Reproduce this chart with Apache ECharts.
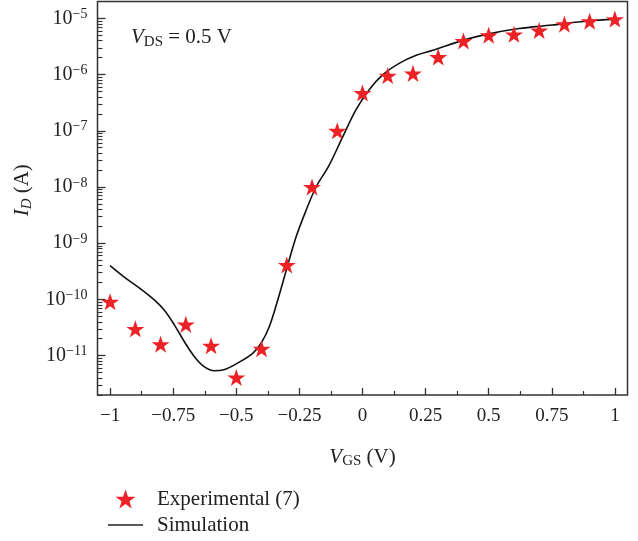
<!DOCTYPE html>
<html>
<head>
<meta charset="utf-8">
<script src="https://cdn.jsdelivr.net/npm/echarts@6/dist/echarts.min.js"></script>
<style>
  html, body { margin: 0; padding: 0; background: #fff; }
  #chart { width: 638px; height: 541px; }
</style>
</head>
<body>
<div id="chart"></div>
<script>
// Gate voltage of the measured points (V)
const vgsMeasured = [-1, -0.9, -0.8, -0.7, -0.6, -0.5, -0.4, -0.3, -0.2, -0.1, 0,
                     0.1, 0.2, 0.3, 0.4, 0.5, 0.6, 0.7, 0.8, 0.9, 1];
// Measured drain current (A)
const idMeasured = [9.1e-11, 3.0e-11, 1.6e-11, 3.6e-11, 1.5e-11, 4.1e-12, 1.33e-11, 4.1e-10,
                    1.0e-8, 1.0e-7, 4.7e-7, 9.6e-7, 1.05e-6, 2.05e-6, 3.97e-6, 5.0e-6,
                    5.2e-6, 6.1e-6, 7.9e-6, 8.9e-6, 9.7e-6];

// Simulated transfer curve
const vgsSim = [-1.0, -0.944, -0.89, -0.824, -0.785, -0.745, -0.705, -0.666, -0.626, -0.587,
                -0.55, -0.49, -0.435, -0.402, -0.369, -0.336, -0.302, -0.263, -0.223, -0.184,
                -0.133, -0.078, -0.025, 0.028, 0.081, 0.147, 0.213, 0.279, 0.40, 0.50,
                0.62, 0.75, 0.89, 1.0];
const idSim = [4.0e-10, 2.5e-10, 1.67e-10, 9.7e-11, 6.4e-11, 3.5e-11, 1.75e-11, 9.6e-12, 6.3e-12, 5.4e-12,
               5.6e-12, 7.6e-12, 1.1e-11, 1.66e-11, 3.3e-11, 9.7e-11, 3.3e-10, 1.3e-9, 3.9e-9, 1.0e-8,
               2.4e-8, 7.9e-8, 2.4e-7, 5.5e-7, 1.0e-6, 1.6e-6, 2.2e-6, 2.7e-6, 4.1e-6, 5.3e-6,
               6.6e-6, 7.6e-6, 9.0e-6, 9.7e-6];

// Axis ticks
const xMajorTicks = [-1, -0.75, -0.5, -0.25, 0, 0.25, 0.5, 0.75, 1];
const xMinorTicks = [-0.875, -0.625, -0.375, -0.125, 0.125, 0.375, 0.625, 0.875];
const yExponents = [-11, -10, -9, -8, -7, -6, -5];
const yMajorTicks = yExponents.map(e => Math.pow(10, e));
const yMinorTicks = [];
for (let e = -12; e <= -5; e++) {
  for (let m = 2; m <= 9; m++) yMinorTicks.push(m * Math.pow(10, e));
}

const serif = '"Liberation Serif", "DejaVu Serif", serif';
const ink = '#222';
const starPath = 'path://M50,0 L61.8,35.1 L98.1,35.1 L68.8,56.7 L79.4,91 L50,70 L20.6,91 L31.2,56.7 L1.9,35.1 L38.2,35.1 Z';
const dashPath = 'path://M0,0 L100,0 L100,4.4 L0,4.4 Z';
const xMin = -1.05, xMax = 1.05;
const yMin = Math.pow(10, -11.7), yMax = Math.pow(10, -4.7);

function fmtX(v) {
  if (Math.abs(v) < 1e-9) return '0';
  return (v < 0 ? '\u2212' : '') + String(Math.abs(v));
}
function fmtY(v) {
  const e = Math.round(Math.log10(v));
  return '{b|10}{s|\u2212' + Math.abs(e) + '}';
}

const chart = echarts.init(document.getElementById('chart'), null, { renderer: 'canvas' });
chart.setOption({
  animation: false,
  backgroundColor: '#fff',
  grid: { left: 97.5, right: 10.5, top: 1.5, bottom: 146, show: true, borderColor: '#333', borderWidth: 1.5 },
  xAxis: [
    {
      type: 'value', position: 'bottom', min: xMin, max: xMax,
      axisLine: { show: false, onZero: false }, splitLine: { show: false },
      axisTick: { inside: true, length: 7, customValues: xMajorTicks, lineStyle: { color: '#333', width: 1.3 } },
      axisLabel: { customValues: xMajorTicks, formatter: fmtX, margin: 12, fontFamily: serif, fontSize: 19, color: ink },
      name: '{v|V}{s|GS}{t| (V)}', nameLocation: 'middle', nameGap: 50,
      nameTextStyle: {
        rich: {
          v: { fontFamily: serif, fontStyle: 'italic', fontSize: 21, lineHeight: 24, color: ink },
          s: { fontFamily: serif, fontSize: 15, lineHeight: 15, verticalAlign: 'bottom', color: ink },
          t: { fontFamily: serif, fontSize: 21, lineHeight: 24, color: ink }
        }
      }
    },
    {
      type: 'value', position: 'bottom', min: xMin, max: xMax,
      axisLine: { show: false, onZero: false }, splitLine: { show: false }, axisLabel: { show: false },
      axisTick: { inside: true, length: 4, customValues: xMinorTicks, lineStyle: { color: '#333', width: 1.2 } }
    }
  ],
  yAxis: [
    {
      type: 'log', logBase: 10, position: 'left', min: yMin, max: yMax,
      axisLine: { show: false, onZero: false }, splitLine: { show: false },
      axisTick: { inside: true, length: 8, customValues: yMajorTicks, lineStyle: { color: '#333', width: 1.3 } },
      axisLabel: {
        customValues: yMajorTicks, formatter: fmtY, margin: 10, align: 'right',
        rich: {
          b: { fontFamily: serif, fontSize: 20, lineHeight: 22, color: ink },
          s: { fontFamily: serif, fontSize: 14, lineHeight: 14, verticalAlign: 'top', color: ink }
        }
      },
      name: '{i|I}{d|D}{t| (A)}', nameLocation: 'middle', nameGap: 51, nameRotate: 90,
      nameTextStyle: {
        padding: [0, 0, 0, 16],
        rich: {
          i: { fontFamily: serif, fontStyle: 'italic', fontSize: 21, lineHeight: 24, color: ink },
          d: { fontFamily: serif, fontStyle: 'italic', fontSize: 15, lineHeight: 15, verticalAlign: 'bottom', color: ink },
          t: { fontFamily: serif, fontSize: 21, lineHeight: 24, color: ink }
        }
      }
    },
    {
      type: 'log', logBase: 10, position: 'left', min: yMin, max: yMax,
      axisLine: { show: false, onZero: false }, splitLine: { show: false }, axisLabel: { show: false },
      axisTick: { inside: true, length: 5, customValues: yMinorTicks, lineStyle: { color: '#333', width: 1.1 } }
    }
  ],
  legend: {
    orient: 'vertical', left: 108, top: 488, padding: 0, itemWidth: 35, itemHeight: 19, itemGap: 4,
    textStyle: { fontFamily: serif, fontSize: 21, lineHeight: 22, color: ink, padding: [0, 0, 0, 9] },
    data: [
      { name: 'Experimental (7)', icon: starPath },
      { name: 'Simulation', icon: dashPath, itemStyle: { color: '#222' } }
    ]
  },
  graphic: [
    {
      type: 'text', left: 131, top: 27,
      style: {
        text: '{v|V}{s|DS}{t| = 0.5 V}',
        rich: {
          v: { fontFamily: serif, fontStyle: 'italic', fontSize: 21, lineHeight: 24, fill: ink },
          s: { fontFamily: serif, fontSize: 15, lineHeight: 15, verticalAlign: 'bottom', fill: ink },
          t: { fontFamily: serif, fontSize: 21, lineHeight: 24, fill: ink }
        }
      }
    }
  ],
  series: [
    {
      name: 'Simulation', type: 'line', xAxisIndex: 0, yAxisIndex: 0,
      data: vgsSim.map((v, i) => [v, idSim[i]]),
      symbol: 'none', smooth: 0.35, z: 2,
      lineStyle: { color: '#111', width: 1.6 },
      itemStyle: { color: '#111' }
    },
    {
      name: 'Experimental (7)', type: 'scatter', xAxisIndex: 0, yAxisIndex: 0,
      data: vgsMeasured.map((v, i) => [v, idMeasured[i]]),
      symbol: starPath, symbolSize: 18, symbolKeepAspect: true, z: 3,
      itemStyle: { color: '#ec2227', opacity: 1 }
    }
  ]
});
</script>
</body>
</html>
